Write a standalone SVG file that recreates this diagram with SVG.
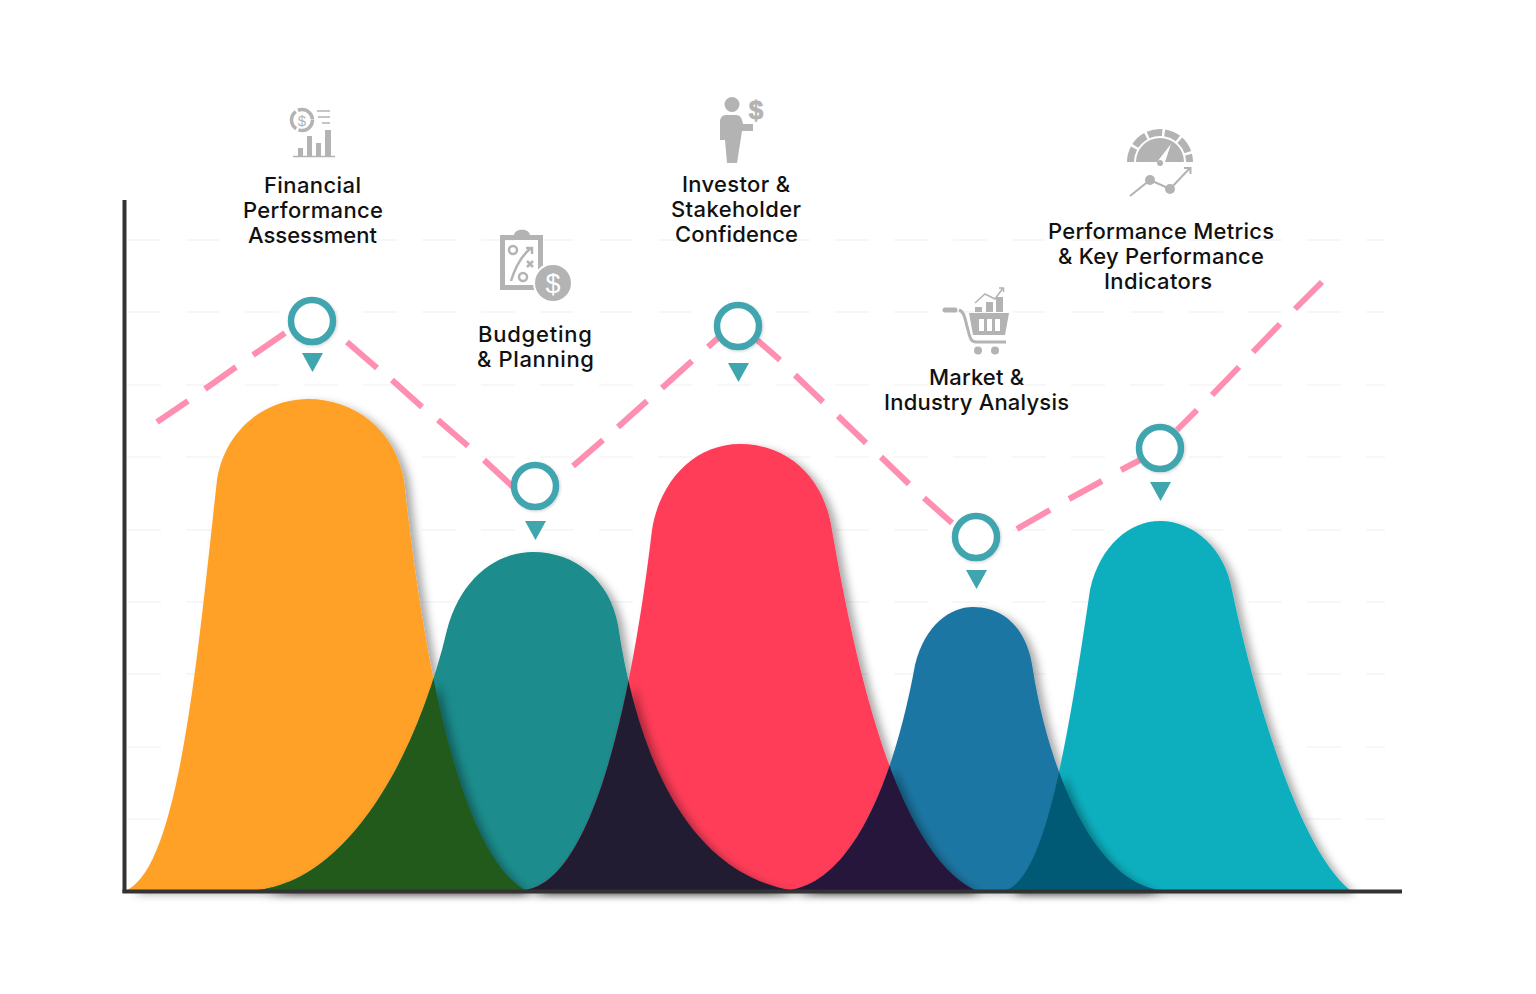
<svg xmlns="http://www.w3.org/2000/svg" width="1536" height="994" viewBox="0 0 1536 994">
<style>
.lbl{font-family:"Inter","DejaVu Sans",sans-serif;font-size:22px;font-weight:500;fill:#111}
.ring{fill:#fff;stroke:#3fa5ae;stroke-width:6.500}
.tri{fill:#3fa5ae}
.ic{fill:#b3b3b3}
.icl{fill:none;stroke:#b3b3b3}
.grid{stroke:#f5f5f5;stroke-width:1.500;stroke-dasharray:34 25;fill:none}
</style>
<defs>
<filter id="sh" x="-20%" y="-20%" width="140%" height="140%"><feDropShadow dx="6" dy="4" stdDeviation="4" flood-color="#000" flood-opacity=".34"/></filter>
<filter id="ringsh" x="-30%" y="-30%" width="160%" height="160%"><feDropShadow dx="1" dy="1" stdDeviation="1.500" flood-color="#000" flood-opacity=".18"/></filter>
<path id="a" d="M127,890C180,865 198,650 217,480C225,430 265,399 308,399C355,399 395,430 404,480C420,630 455,850 525,890Z"/>
<path id="b" d="M258,890C345,880 415,765 447,630C460,580 495,552 533,552C575,552 610,580 618,625C635,740 680,870 790,890Z"/>
<path id="c" d="M525,890C595,880 633,690 652,530C660,480 695,444 740,444C790,444 825,480 832,530C853,650 893,850 975,890Z"/>
<path id="d" d="M790,890C855,880 895,775 915,665C925,625 950,607 973,607C1005,607 1028,630 1033,670C1047,760 1090,880 1160,890Z"/>
<path id="e" d="M1005,890C1045,880 1068,740 1090,590C1100,545 1130,521 1160,521C1195,521 1225,550 1232,590C1255,700 1300,850 1350,890Z"/>
<clipPath id="ca"><use href="#a"/></clipPath>
<clipPath id="cb"><use href="#b"/></clipPath>
<clipPath id="cc"><use href="#c"/></clipPath>
<clipPath id="cd"><use href="#d"/></clipPath>
</defs>
<rect width="1536" height="994" fill="#fff"/>
<g id="grid">
<path class="grid" d="M127,240H1385M127,312H1385M127,385H1385M127,457H1385M127,530H1385M127,602H1385M127,674H1385M127,747H1385M127,819H1385"/>
</g>
<g id="hills">
<use href="#a" fill="#ffa126" filter="url(#sh)"/>
<use href="#b" fill="#1a8c8c" filter="url(#sh)"/>
<use href="#c" fill="#ff3d58" filter="url(#sh)"/>
<use href="#d" fill="#1f76a3" filter="url(#sh)"/>
<use href="#e" fill="#0eafbf" filter="url(#sh)"/>
<g filter="url(#sh)"><g clip-path="url(#ca)"><use href="#b" fill="#225a1b"/></g></g>
<g filter="url(#sh)"><g clip-path="url(#cb)"><use href="#c" fill="#241c33"/></g></g>
<g filter="url(#sh)"><g clip-path="url(#cc)"><use href="#d" fill="#26173b"/></g></g>
<g filter="url(#sh)"><g clip-path="url(#cd)"><use href="#e" fill="#005a75"/></g></g>
</g>
<g id="axes" fill="#333">
<rect x="122.500" y="200" width="4" height="693"/>
<rect x="122.500" y="889.500" width="1279.500" height="4"/>
</g>
<g id="connectors" fill="none" stroke="#ff8fb0" stroke-width="6">
<path d="M157,422L188,401M205,389L236,367M253,355L285,333"/>
<path d="M347,342L377,368M392,380L422,407M438,420L468,446M484,460L513,487"/>
<path d="M573,466L603,440M618,427L647,401M662,388L692,361M708,347L718,338"/>
<path d="M757,340L780,360M795,375L823,402M838,416L866,443M881,457L909,484M924,498L952,523"/>
<path d="M1017,529L1050,510M1069,499L1102,481M1121,470L1140,460"/>
<path d="M1177,430L1197,410M1212,395L1239,367M1253,352L1280,324M1295,309L1322,282"/>
</g>
<g id="node-financial">
<circle class="icl" cx="302" cy="120" r="10.500" stroke-width="3.500" stroke-dasharray="20 2.500"/>
<text x="302" y="126" text-anchor="middle" font-family="Liberation Sans,sans-serif" font-size="15" fill="#b3b3b3">$</text>
<path class="icl" stroke-width="1.500" d="M317,111H330M318,117H330M322,123H330M293,156.500H335"/>
<path class="ic" d="M298,148h5v8h-5zM307,136h5v20h-5zM316,143h5v13h-5zM325,130h6v26h-6z"/>
<circle class="ring" cx="312" cy="321" r="21" filter="url(#ringsh)"/>
<path class="tri" d="M302,353H323L312.500,372Z"/>
<text class="lbl" x="264" y="193" textLength="97">Financial</text>
<text class="lbl" x="243" y="218" textLength="140">Performance</text>
<text class="lbl" x="248" y="243" textLength="129">Assessment</text>
</g>
<g id="node-budgeting">
<path class="ic" fill-rule="evenodd" d="M500,235H514C515,228 529,228 530,235H543V290H500ZM505,240V285H538V240Z"/>
<circle class="icl" cx="513" cy="250" r="4" stroke-width="2.500"/>
<circle class="icl" cx="523" cy="277" r="4" stroke-width="2.500"/>
<path class="icl" stroke-width="2.500" d="M511,281C515,268 521,256 531,248M526,248H532V254M527,261L533,267M533,261L527,267"/>
<circle cx="553" cy="283" r="20" fill="#fff"/>
<circle class="ic" cx="553" cy="283" r="18"/>
<text x="553" y="293" text-anchor="middle" font-family="Liberation Sans,sans-serif" font-size="27" fill="#fff">$</text>
<circle class="ring" cx="535" cy="486" r="21" filter="url(#ringsh)"/>
<path class="tri" d="M525,521H546L535.500,540Z"/>
<text class="lbl" x="478" y="342" textLength="114">Budgeting</text>
<text class="lbl" x="477" y="367" textLength="117">&amp; Planning</text>
</g>
<g id="node-investor">
<circle class="ic" cx="732" cy="104.500" r="7.500"/>
<path class="ic" d="M726,115H736C740,115 742,118 743,124H753V131H742L737,163H727L725,140H720V122C720,118 722,115 726,115Z"/>
<text x="756" y="119" text-anchor="middle" font-family="Liberation Sans,sans-serif" font-weight="700" font-size="26" fill="#b3b3b3" stroke="#b3b3b3" stroke-width=".8">$</text>
<circle class="ring" cx="738" cy="326" r="21" filter="url(#ringsh)"/>
<path class="tri" d="M728,363H749L738.500,382Z"/>
<text class="lbl" x="682" y="192" textLength="108">Investor &amp;</text>
<text class="lbl" x="671" y="217" textLength="130">Stakeholder</text>
<text class="lbl" x="675" y="242" textLength="123">Confidence</text>
</g>
<g id="node-market">
<path class="icl" stroke-width="5" stroke-linecap="round" d="M945,310H955"/>
<path class="icl" stroke-width="3" d="M959,310C965,312 965,320 968,330C970,338 971,342 976,342H1006"/>
<path class="ic" fill-rule="evenodd" d="M969,313H1009L1005,335H973ZM979,319V331H984V319ZM987,319V331H992V319ZM995,319V331H1000V319Z"/>
<path class="ic" d="M975,307h7v5h-7zM986,302h7v10h-7zM996,297h7v15h-7z"/>
<path class="icl" stroke-width="1.500" d="M975,303L985,294L995,299L1003,288M999,288H1003.500V292"/>
<circle class="ic" cx="978" cy="350.500" r="4"/><circle class="ic" cx="995" cy="350.500" r="4"/>
<circle class="ring" cx="976" cy="537" r="21" filter="url(#ringsh)"/>
<path class="tri" d="M966,570H987L976.500,589Z"/>
<text class="lbl" x="929" y="385" textLength="95">Market &amp;</text>
<text class="lbl" x="884" y="410" textLength="185">Industry Analysis</text>
</g>
<g id="node-metrics">
<path class="icl" stroke-width="7" stroke-dasharray="14.500 2.500" d="M1130.500,162A29.500,29.500 0 0 1 1189.500,162"/>
<path class="ic" d="M1136,162A24,24 0 0 1 1184,162H1165L1171,144L1157,162Z"/>
<circle class="ic" cx="1160" cy="163" r="3"/>
<path class="icl" stroke-width="2" d="M1130,196L1150,180L1170,189L1190,168M1184,168H1190.500V174"/>
<circle class="ic" cx="1150" cy="180" r="5"/><circle class="ic" cx="1170" cy="189" r="5"/>
<circle class="ring" cx="1160" cy="448" r="21" filter="url(#ringsh)"/>
<path class="tri" d="M1150,482H1171L1160.500,501Z"/>
<text class="lbl" x="1048" y="239" textLength="226">Performance Metrics</text>
<text class="lbl" x="1058" y="264" textLength="206">&amp; Key Performance</text>
<text class="lbl" x="1104" y="289" textLength="108">Indicators</text>
</g>
</svg>
